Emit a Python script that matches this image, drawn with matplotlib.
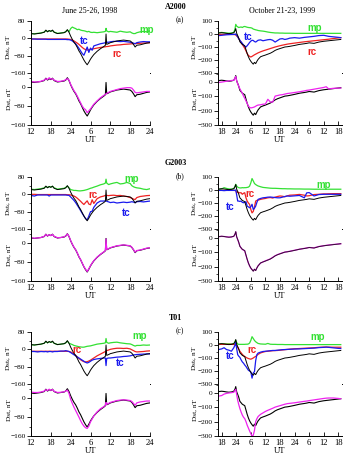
import numpy as np
import matplotlib
matplotlib.use('Agg')
import matplotlib.pyplot as plt
from matplotlib.ticker import MultipleLocator

plt.rcParams['font.family'] = ['Liberation Serif', 'DejaVu Serif']
plt.rcParams['mathtext.fontset'] = 'stix'

W, H = 351, 459

# ---------------- June 25-26, 1998 (hours from June 25 00 UT) ----------------
t_jun = [12, 13, 14, 15, 16, 16.5, 17, 17.5, 18, 18.5, 19, 20, 21, 22, 22.5, 23, 23.5, 24, 24.5, 25,
         25.5, 26, 26.5, 27, 27.5, 28, 28.5, 29, 29.5, 30, 30.5, 31, 32, 33, 34, 34.5, 34.7, 34.9, 35.5, 36,
         37, 38, 39, 40, 41, 42, 42.5, 43, 43.5, 44, 45, 46, 47, 48]

dst_jun = [22, 20, 22, 24, 28, 38, 30, 36, 32, 38, 28, 22, 24, 26, 30, 40, 28, 10, -5, -18,
           -28, -42, -58, -70, -85, -100, -112, -122, -110, -96, -85, -75, -60, -48, -38, -32, 20, -28, -24, -20,
           -16, -12, -10, -8, -10, -12, -18, -28, -40, -32, -30, -26, -22, -20]

# A2000
mp_a_jun = [22, 21, 23, 25, 29, 36, 31, 35, 33, 36, 29, 23, 25, 27, 31, 38, 30, 45, 52, 48,
            45, 40, 42, 38, 36, 35, 33, 30, 32, 28, 27, 28, 26, 28, 30, 32, 46, 34, 30, 32,
            30, 28, 33, 30, 28, 30, 25, 22, 22, 26, 30, 32, 30, 35]
tc_a_jun = [-3, -3, -4, -4, -4, -4, -5, -5, -5, -5, -5, -5, -5, -5, -5, -6, -6, -8, -12, -18,
            -25, -35, -46, -58, -70, -78, -60, -40, -65, -45, -55, -35, -30, -25, -22, -20, -20, -18, -18, -16,
            -14, -14, -15, -14, -16, -18, -20, -22, -25, -20, -17, -15, -16, -16]
rc_a_jun = [-3, -3, -3, -3, -3, -3, -3, -3, -3, -3, -3, -3, -3, -3, -3, -3, -4, -5, -8, -12,
            -17, -22, -28, -35, -42, -48, -52, -54, -53, -51, -50, -48, -45, -42, -40, -39, -38, -38, -37, -35,
            -33, -31, -30, -28, -27, -26, -25, -25, -24, -24, -23, -22, -21, -20]
sum_a_jun = [24, 22, 22, 25, 30, 36, 32, 40, 34, 36, 30, 24, 25, 28, 32, 36, 30, 12, -2, -15,
             -25, -38, -52, -66, -80, -90, -95, -108, -100, -92, -82, -72, -58, -45, -35, -30, -28, -26, -22, -18,
             -14, -10, -6, -4, -2, -2, -4, -12, -22, -24, -22, -20, -18, -18]

# G2003
mp_g_jun = [24, 22, 24, 26, 30, 36, 32, 36, 34, 37, 30, 24, 26, 28, 32, 38, 30, 22, 20, 18,
            18, 17, 16, 16, 17, 18, 20, 22, 25, 28, 30, 33, 38, 44, 48, 52, 70, 52, 45, 48,
            52, 55, 48, 50, 55, 50, 40, 35, 32, 30, 28, 24, 22, 26]
tc_g_jun = [-5, -8, -3, -3, -3, -3, -3, -8, -3, -3, -3, -3, -3, -3, -3, -4, -5, -12, -20, -28,
            -38, -50, -62, -75, -88, -100, -112, -118, -100, -80, -78, -60, -40, -31, -31, -30, -30, -32, -35, -38,
            -36, -40, -38, -36, -38, -36, -34, -36, -38, -34, -33, -35, -33, -31]
rc_g_jun = [0, 0, -1, -1, -1, -1, -1, -1, -1, -1, -1, -1, -1, -1, -1, -2, -2, -3, -5, -8,
            -12, -18, -25, -32, -40, -47, -38, -30, -45, -48, -25, -42, -20, -12, -8, -5, -5, -5, -6, -5,
            -4, -6, -5, -8, -10, -15, -18, -22, -24, -15, -10, -8, -6, -5]
sum_g_jun = [23, 21, 22, 24, 29, 37, 31, 36, 32, 37, 29, 23, 24, 27, 31, 39, 29, 11, -4, -17,
             -27, -41, -57, -69, -84, -99, -110, -120, -108, -95, -84, -74, -59, -47, -37, -31, 18, -27, -23, -19,
             -15, -11, -9, -7, -9, -11, -17, -27, -38, -31, -29, -25, -21, -19]

# T01
mp_t_jun = [21, 20, 22, 24, 28, 36, 30, 35, 32, 36, 28, 22, 24, 26, 30, 38, 28, 25, 22, 18,
            16, 14, 12, 11, 10, 10, 12, 14, 15, 16, 18, 20, 24, 26, 28, 30, 50, 32, 28, 30,
            32, 33, 30, 28, 26, 25, 22, 18, 15, 18, 18, 20, 19, 20]
tc_t_jun = [-10, -10, -12, -10, -11, -10, -12, -10, -10, -12, -10, -10, -8, -8, -6, -8, -10, -15, -20, -25,
            -30, -35, -40, -45, -50, -55, -60, -63, -60, -55, -50, -47, -44, -42, -40, -40, -75, -42, -40, -40,
            -38, -36, -35, -33, -32, -30, -28, -26, -25, -24, -23, -22, -21, -21]
rc_t_jun = [-9, -9, -9, -9, -9, -9, -9, -9, -9, -9, -9, -9, -9, -9, -9, -9, -10, -12, -16, -22,
            -28, -35, -42, -48, -53, -57, -58, -57, -54, -50, -45, -40, -30, -22, -14, -10, -8, -6, -3, 0,
            3, 5, 5, 4, 5, 2, -2, -6, -10, -12, -11, -10, -8, -7]
sum_t_jun = [26, 24, 24, 26, 30, 36, 32, 38, 33, 37, 29, 24, 25, 27, 30, 34, 20, -5, -22, -38,
             -52, -66, -80, -95, -108, -118, -125, -128, -118, -100, -88, -75, -58, -45, -36, -30, -18, -26, -22, -18,
             -14, -10, -8, -7, -8, -10, -14, -22, -30, -20, -16, -14, -12, -12]

# ---------------- October 21-23, 1999 (hours from Oct 21 00 UT) ----------------
t_oct = [17, 18, 19, 20, 21, 22, 23, 23.5, 23.8, 24.2, 24.6, 25, 25.5, 26, 26.5, 27, 27.5, 28, 28.5, 29,
         29.5, 30, 30.5, 31, 31.5, 32, 32.5, 33, 34, 35, 36, 37, 38, 39, 40, 41, 42, 43, 44, 45,
         46, 48, 50, 52, 53, 54, 56, 58, 60, 61, 62, 64, 66, 67]

dst_oct = [8, 10, 8, 5, 3, 5, 10, 25, 42, 5, -12, -30, -60, -70, -80, -85, -90, -120, -150, -175,
           -195, -210, -222, -232, -218, -228, -210, -195, -175, -168, -162, -155, -148, -138, -126, -118, -112, -106, -100, -98,
           -95, -88, -80, -75, -72, -68, -72, -62, -56, -54, -52, -48, -44, -42]

# A2000
mp_a_oct = [10, 12, 10, 8, 6, 8, 12, 40, 74, 60, 55, 50, 52, 54, 50, 56, 58, 55, 52, 50,
            49, 48, 45, 38, 35, 32, 30, 27, 24, 22, 19, 15, 12, 10, 8, 8, 7, 7, 6, 6,
            6, 5, 5, 5, 5, 5, 5, 5, 5, 5, 5, 5, 5, 5]
tc_a_oct = [-12, -10, -8, -6, -5, -4, -3, -2, 0, -10, -22, -35, -48, -60, -72, -85, -95, -100, -90, -78,
            -65, -55, -48, -50, -58, -62, -55, -48, -45, -52, -48, -44, -42, -48, -62, -50, -38, -36, -42, -38,
            -32, -28, -32, -26, -24, -22, -18, -12, -10, -14, -18, -22, -26, -28]
rc_a_oct = [-3, -3, -3, -3, -3, -3, -4, -5, -8, -15, -22, -35, -50, -65, -80, -95, -110, -130, -150, -165,
            -172, -177, -172, -166, -160, -155, -150, -145, -137, -130, -124, -118, -112, -106, -100, -95, -90, -86, -82, -78,
            -75, -70, -65, -60, -58, -56, -52, -48, -44, -42, -40, -35, -30, -28]
sum_a_oct = [-5, -3, 0, 3, 5, 8, 10, 25, 35, 5, -15, -30, -50, -65, -80, -100, -115, -133, -150, -170,
             -178, -182, -180, -178, -175, -170, -165, -162, -160, -156, -155, -122, -140, -142, -100, -96, -92, -90, -86, -82,
             -80, -75, -70, -64, -60, -58, -52, -46, -40, -35, -50, -46, -45, -44]

# G2003
mp_g_oct = [5, 8, 18, 12, 8, 7, 10, 30, 44, 30, 22, 18, 16, 16, 18, 17, 18, 18, 20, 22,
            30, 55, 88, 70, 50, 42, 36, 31, 25, 20, 18, 16, 14, 13, 13, 12, 11, 10, 10, 9,
            9, 8, 8, 7, 7, 7, 6, 6, 6, 6, 6, 6, 6, 6]
tc_g_oct = [-3, -3, -5, -3, -3, -3, -3, -2, 0, -40, -85, -85, -88, -85, -95, -98, -95, -90, -124, -130,
            -137, -128, -110, -150, -140, -124, -95, -72, -65, -60, -58, -55, -54, -56, -58, -60, -60, -55, -50, -46,
            -48, -45, -42, -60, -22, -20, -46, -35, -33, -33, -33, -33, -33, -33]
rc_g_oct = [-3, -3, -3, -3, -3, -3, -3, -4, -5, -21, -15, -21, -22, -21, -33, -25, -21, -60, -85, -100,
            -111, -150, -176, -165, -130, -85, -80, -78, -72, -68, -65, -60, -58, -62, -55, -50, -46, -48, -52, -45,
            -40, -38, -34, -40, -46, -44, -35, -33, -30, -30, -29, -28, -28, -28]
sum_g_oct = [7, 9, 8, 6, 4, 5, 9, 24, 40, 4, -14, -32, -58, -72, -82, -86, -92, -122, -150, -176,
             -196, -212, -220, -230, -220, -226, -208, -194, -176, -168, -160, -154, -147, -136, -125, -117, -111, -105, -100, -97,
             -94, -87, -80, -74, -71, -68, -70, -61, -56, -53, -51, -47, -44, -42]

# T01
mp_t_oct = [8, 10, 10, 9, 9, 8, 10, 25, 37, 18, 8, 5, 5, 5, 5, 5, 5, 6, 6, 8,
            15, 35, 64, 50, 35, 25, 18, 12, 8, 7, 6, 12, 6, 5, 5, 4, 4, 4, 3, 3,
            3, 3, 3, 3, 3, 3, 3, 3, 3, 3, 3, 3, 3, 3]
tc_t_oct = [-34, -30, -21, -35, -40, -48, -21, 0, 18, -30, -74, -85, -95, -114, -130, -140, -154, -165, -180, -194,
            -200, -207, -255, -215, -205, -120, -74, -62, -55, -50, -48, -46, -44, -42, -42, -40, -38, -36, -35, -34,
            -33, -31, -30, -28, -27, -26, -24, -20, -18, -16, -18, -22, -26, -27]
rc_t_oct = [5, 5, 5, 5, 5, 5, 4, 2, 0, -8, -18, -30, -48, -60, -72, -82, -88, -95, -100, -104,
            -107, -109, -105, -100, -93, -88, -80, -72, -61, -55, -50, -48, -46, -44, -43, -42, -40, -38, -36, -34,
            -32, -29, -27, -25, -24, -23, -21, -18, -16, -16, -16, -17, -17, -17]
sum_t_oct = [-23, -20, -10, -5, -2, 0, 3, 15, 23, -15, -53, -80, -110, -134, -155, -170, -180, -200, -225, -245,
             -265, -284, -300, -295, -261, -200, -180, -165, -150, -140, -130, -122, -115, -108, -100, -95, -90, -85, -80, -76,
             -74, -70, -65, -60, -58, -55, -50, -45, -40, -38, -37, -37, -40, -42]

jun_ticks = [12, 18, 24, 30, 36, 42, 48]
jun_labels = ['12', '18', '24', '6', '12', '18', '24']
oct_ticks = [18, 24, 30, 36, 42, 48, 54, 60, 66]
oct_labels = ['18', '24', '6', '12', '18', '24', '6', '12', '18']

C_MP, C_TC, C_RC, C_SUM = '#33e033', '#1a1aee', '#ee2222', '#ee22ee'

fig = plt.figure(figsize=(W / 100, H / 100), dpi=100)


def px_axes(x0, x1, y0, y1):
    return fig.add_axes([x0 / W, 1 - y1 / H, (x1 - x0) / W, (y1 - y0) / H])


def ftext(x, y, s, **kw):
    fig.text(x / W, 1 - y / H, s, ha='center', va='center', **kw)


def style(ax, xlim, ticks, labels, ylim, yt, ymin, bottom):
    ax.set_xlim(*xlim)
    ax.set_ylim(*ylim)
    ax.set_yticks(yt)
    ax.yaxis.set_minor_locator(MultipleLocator(ymin))
    for s in ('top', 'right'):
        ax.spines[s].set_visible(False)
    for s in ('left', 'bottom'):
        ax.spines[s].set_linewidth(0.7)
    ax.tick_params(axis='y', which='major', direction='out', length=3, width=0.6, labelsize=5.3, pad=1)
    ax.tick_params(axis='y', which='minor', direction='out', length=1.6, width=0.5)
    ax.set_xticks(ticks)
    if bottom:
        ax.set_xticklabels(labels)
        ax.tick_params(axis='x', direction='in', length=3, width=0.6, labelsize=6.2, pad=2.5)
        ax.set_xlabel('UT', fontsize=6.2, labelpad=-0.5)
    else:
        ax.tick_params(axis='x', bottom=False, labelbottom=False)


cols = [
    dict(x0=31, x1=150, t=t_jun, obs=dst_jun, xlim=(12, 48), ticks=jun_ticks, labels=jun_labels,
         ylim_u=(-160, 80), yt_u=[80, 0, -80, -160], ylim_l=(-160, 60), yt_l=[0, -80, -160], ymin=40, ylx=9),
    dict(x0=218, x1=342, t=t_oct, obs=dst_oct, xlim=(16.5, 67.5), ticks=oct_ticks, labels=oct_labels,
         ylim_u=(-300, 100), yt_u=[100, 0, -100, -200, -300], ylim_l=(-300, 60), yt_l=[0, -100, -200, -300], ymin=50, ylx=195),
]

models = [
    ('A2000', '(a)', 21, [(mp_a_jun, tc_a_jun, rc_a_jun, sum_a_jun), (mp_a_oct, tc_a_oct, rc_a_oct, sum_a_oct)],
     [[(147, 30), (84, 41), (117, 54)], [(315, 28), (248, 37), (312, 52)]]),
    ('G2003', '(b)', 177, [(mp_g_jun, tc_g_jun, rc_g_jun, sum_g_jun), (mp_g_oct, tc_g_oct, rc_g_oct, sum_g_oct)],
     [[(132, 179), (126, 213), (93, 195)], [(324, 185), (230, 207), (250, 194)]]),
    ('T01', '(c)', 332, [(mp_t_jun, tc_t_jun, rc_t_jun, sum_t_jun), (mp_t_oct, tc_t_oct, rc_t_oct, sum_t_oct)],
     [[(140, 336), (120, 363), (77, 350)], [(318, 337), (230, 356), (252, 350)]]),
]

for gi, (name, letter, top, series, lab_pos) in enumerate(models):
    for ci, c in enumerate(cols):
        mp, tc, rc, tot = series[ci]
        axu = px_axes(c['x0'], c['x1'], top, top + 52)
        axl = px_axes(c['x0'], c['x1'], top + 52, top + 104)

        axu.plot(c['t'], mp, color=C_MP, lw=0.9)
        axu.plot(c['t'], rc, color=C_RC, lw=0.9)
        axu.plot(c['t'], tc, color=C_TC, lw=0.9)
        axu.plot(c['t'], c['obs'], color='black', lw=0.7)

        if gi == 1 and ci == 1:
            axl.plot(c['t'], tot, color=C_SUM, lw=0.9)
            axl.plot(c['t'], c['obs'], color='#301030', lw=0.7)
        else:
            axl.plot(c['t'], c['obs'], color='black', lw=0.8)
            axl.plot(c['t'], tot, color=C_SUM, lw=0.9)

        style(axu, c['xlim'], c['ticks'], c['labels'], c['ylim_u'], c['yt_u'], c['ymin'], False)
        style(axl, c['xlim'], c['ticks'], c['labels'], c['ylim_l'], c['yt_l'], c['ymin'], True)

        ftext(c['ylx'], top + 26, 'Dst$_i$, nT', fontsize=5.2, rotation=90)
        ftext(c['ylx'], top + 78, 'Dst, nT', fontsize=5.2, rotation=90)

        (mx, my), (tx, ty), (rx, ry) = lab_pos[ci]
        for (x, y), s, col in (((mx, my), 'mp', C_MP), ((tx, ty), 'tc', C_TC), ((rx, ry), 'rc', C_RC)):
            ftext(x, y, s, fontsize=7, color=col, fontweight='bold', family='Liberation Sans')

    ftext(176, top - 14, name, fontsize=5.8, fontweight='bold')
    ftext(180, top - 1, letter, fontsize=5.5)

ftext(90, 11, 'June 25-26, 1998', fontsize=5.8)
ftext(282, 11, 'October 21-23, 1999', fontsize=5.8)

fig.savefig('out.png', dpi=100)
